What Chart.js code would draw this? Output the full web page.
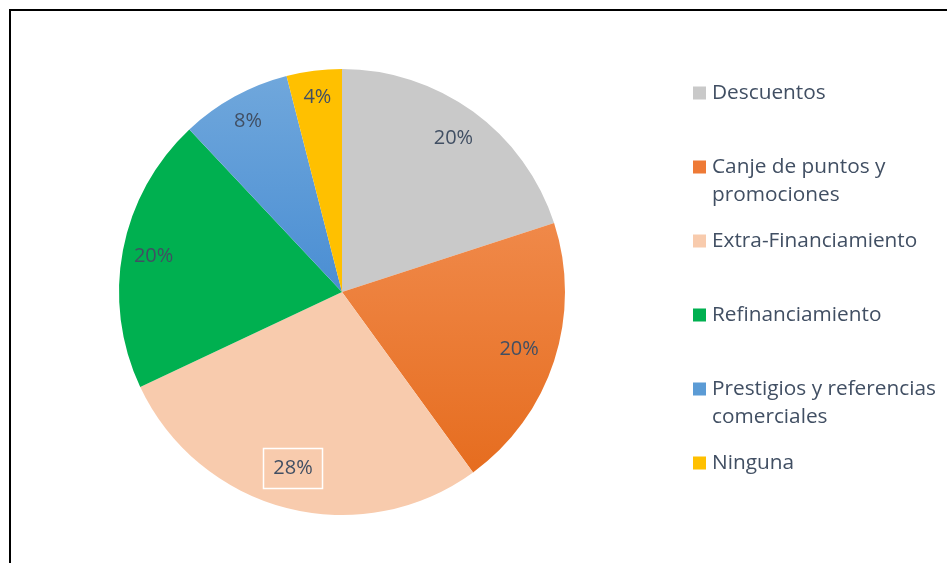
<!DOCTYPE html>
<html lang="es">
<head>
<meta charset="utf-8">
<title>Beneficios</title>
<script src="https://cdn.jsdelivr.net/npm/chart.js@4/dist/chart.umd.min.js"></script>
<style>
  html, body { margin: 0; padding: 0; background: #fff; }
  #wrap { position: relative; width: 947px; height: 563px; overflow: hidden; }
  #frame {
    position: absolute; left: 9px; top: 9px; right: -4px; bottom: -4px;
    border-top: 2px solid #000; border-left: 2px solid #000;
    pointer-events: none;
  }
  canvas { position: absolute; left: 0; top: 0; }
</style>
</head>
<body>
<div id="wrap">
  <canvas id="pie" width="947" height="563"></canvas>
  <div id="frame"></div>
</div>
<script>
// Categories (multi-line entries wrap in the legend)
const categories = [
  'Descuentos',
  ['Canje de puntos y', 'promociones'],
  'Extra-Financiamiento',
  'Refinanciamiento',
  ['Prestigios y referencias', 'comerciales'],
  'Ninguna'
];
// Share of respondents, in percent
const shares = [20, 20, 28, 20, 8, 4];

const TEXT_COLOR = '#414F63';
const FONT = '"Open Sans", "DejaVu Sans", sans-serif';

// Vertical gradients for the orange and blue slices
function vGradient(chart, stops, toCenter) {
  const area = chart.chartArea;
  if (!area) return stops[0];
  const y0 = area.top;
  const y1 = toCenter ? (area.top + area.bottom) / 2 : area.bottom;
  const g = chart.ctx.createLinearGradient(0, y0, 0, y1);
  g.addColorStop(0, stops[0]);
  g.addColorStop(1, stops[1]);
  return g;
}

function sliceColor(ctx) {
  const c = ctx.chart;
  switch (ctx.dataIndex) {
    case 0: return '#C9C9C9';
    case 1: return vGradient(c, ['#F69A63', '#E46818'], false);
    case 2: return '#F8CBAD';
    case 3: return '#00B050';
    case 4: return vGradient(c, ['#71A8DC', '#4A8ED3'], true);
    case 5: return '#FFC000';
  }
  return '#ccc';
}

// Percentage labels placed inside each slice
const sliceLabels = {
  id: 'sliceLabels',
  afterDatasetsDraw(chart, args, opts) {
    const { ctx } = chart;
    const meta = chart.getDatasetMeta(0);
    const values = chart.data.datasets[0].data;
    ctx.save();
    ctx.font = opts.font;
    ctx.fillStyle = opts.color;
    ctx.textAlign = 'center';
    ctx.textBaseline = 'middle';
    meta.data.forEach((arc, i) => {
      const mid = (arc.startAngle + arc.endAngle) / 2 + opts.turn[i];
      const r = arc.outerRadius * opts.radius[i];
      const x = arc.x + Math.cos(mid) * r;
      const y = arc.y + Math.sin(mid) * r;
      const text = values[i] + '%';
      if (opts.boxed.includes(i)) {
        const w = ctx.measureText(text).width + 20;
        const h = 40;
        ctx.strokeStyle = '#ffffff';
        ctx.lineWidth = 1.5;
        ctx.strokeRect(Math.round(x - w / 2) + 0.5, Math.round(y - h / 2) + 0.5, Math.round(w), h);
      }
      ctx.fillText(text, x, y);
    });
    ctx.restore();
  }
};

// Legend on the right: colour square plus (wrapped) category name
const sideLegend = {
  id: 'sideLegend',
  afterDraw(chart, args, opts) {
    const { ctx } = chart;
    const labels = chart.data.labels;
    ctx.save();
    ctx.font = opts.font;
    ctx.textBaseline = 'middle';
    ctx.textAlign = 'left';
    labels.forEach((lab, i) => {
      const lines = Array.isArray(lab) ? lab : [lab];
      const cy = opts.top + i * opts.step;
      ctx.fillStyle = opts.swatch[i];
      ctx.fillRect(opts.x, cy - opts.box / 2, opts.box, opts.box);
      ctx.fillStyle = opts.color;
      lines.forEach((ln, k) => ctx.fillText(ln, opts.x + opts.box + 6, cy + k * opts.lineHeight));
    });
    ctx.restore();
  }
};

new Chart(document.getElementById('pie'), {
  type: 'pie',
  data: {
    labels: categories,
    datasets: [{
      data: shares,
      backgroundColor: sliceColor,
      borderWidth: 0
    }]
  },
  options: {
    responsive: false,
    animation: false,
    events: [],
    layout: { padding: { left: 119, right: 382, top: 69, bottom: 48 } },
    plugins: {
      legend: { display: false },
      tooltip: { enabled: false },
      sliceLabels: {
        font: '20px ' + FONT,
        color: TEXT_COLOR,
        radius: [0.85, 0.835, 0.82, 0.86, 0.874, 0.88],
        turn: [0, 0, 0.02, 0, 0, 0],
        boxed: [2]
      },
      sideLegend: {
        font: '20.8px ' + FONT,
        color: TEXT_COLOR,
        x: 693,
        top: 93,
        step: 74,
        lineHeight: 28,
        box: 13,
        swatch: ['#C9C9C9', '#EE7A36', '#F8CBAD', '#00B050', '#5B9BD5', '#FFC000']
      }
    }
  },
  plugins: [sliceLabels, sideLegend]
});
</script>
</body>
</html>
